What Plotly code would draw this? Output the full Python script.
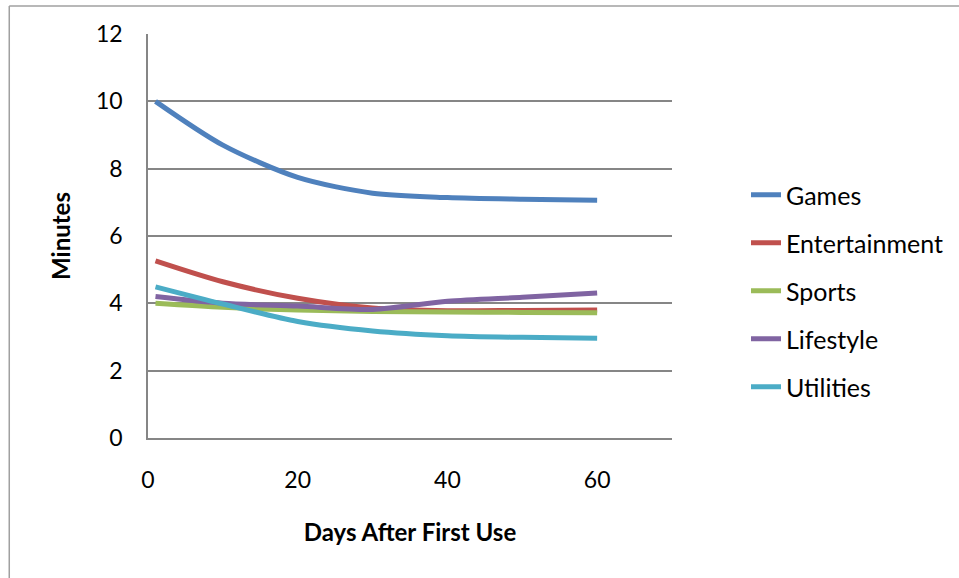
import plotly.graph_objects as go

days = [1, 10, 20, 30, 40, 50, 60]
games = [10.0, 8.70, 7.74, 7.27, 7.14, 7.09, 7.06]
entertainment = [5.26, 4.64, 4.15, 3.86, 3.78, 3.79, 3.80]
sports = [4.00, 3.88, 3.80, 3.76, 3.74, 3.73, 3.72]
lifestyle = [4.20, 4.00, 3.92, 3.82, 4.06, 4.18, 4.31]
utilities = [4.49, 3.98, 3.46, 3.18, 3.04, 2.99, 2.96]

series = [
    ("Games", games, "#4F81BD"),
    ("Entertainment", entertainment, "#C0504D"),
    ("Sports", sports, "#9BBB59"),
    ("Lifestyle", lifestyle, "#8064A2"),
    ("Utilities", utilities, "#4BACC6"),
]

fig = go.Figure()
for i, (name, vals, color) in enumerate(series):
    fig.add_trace(go.Scatter(
        x=days, y=vals, name=name, mode="lines",
        line=dict(color=color, width=5, shape="spline", smoothing=0.8),
        legendgroup=f"g{i}",
    ))

W, H = 959, 578
L, R, T, B = 148, 286, 34, 140
pw, ph = W - L - R, H - T - B

def px_x(p):
    return (p - L) / pw

def px_y(p):
    return (H - B - p) / ph

fig.update_layout(
    width=W, height=H,
    margin=dict(l=L, r=R, t=T, b=B, pad=0),
    paper_bgcolor="white", plot_bgcolor="white",
    font=dict(family="Lato, sans-serif", color="black", size=23),
    showlegend=True,
    legend=dict(
        x=px_x(746), y=px_y(291), xanchor="left", yanchor="middle",
        font=dict(size=25, family="Lato, sans-serif", color="black"),
        tracegroupgap=12.5, bgcolor="rgba(0,0,0,0)",
    ),
    xaxis=dict(
        range=[0, 70], tickvals=[0, 20, 40, 60], showgrid=False,
        showline=True, linecolor="#868686", linewidth=1.5,
        ticks="outside", ticklen=21, tickcolor="rgba(0,0,0,0)",
        zeroline=False, tickfont=dict(size=23),
        title=dict(text="<b>Days After First Use</b>", font=dict(size=24, family="Lato, sans-serif"), standoff=32),
    ),
    yaxis=dict(
        range=[0, 12], tickvals=[0, 2, 4, 6, 8, 10, 12], showgrid=True,
        gridcolor="#868686", gridwidth=1.5,
        showline=True, linecolor="#868686", linewidth=1.5,
        ticks="outside", ticklen=19, tickcolor="rgba(0,0,0,0)", zeroline=False,
        tickfont=dict(size=23),
        title=dict(text="<b>Minutes</b>", font=dict(size=24, family="Lato, sans-serif"), standoff=19),
    ),
    shapes=[
        dict(type="line", xref="paper", yref="paper", x0=px_x(9), x1=px_x(9), y0=px_y(6), y1=px_y(600),
             line=dict(color="#A0A0A0", width=1.5)),
        dict(type="line", xref="paper", yref="paper", x0=px_x(9), x1=px_x(1000), y0=px_y(6), y1=px_y(6),
             line=dict(color="#A0A0A0", width=1.5)),
    ],
)

fig.write_html("out.html")
